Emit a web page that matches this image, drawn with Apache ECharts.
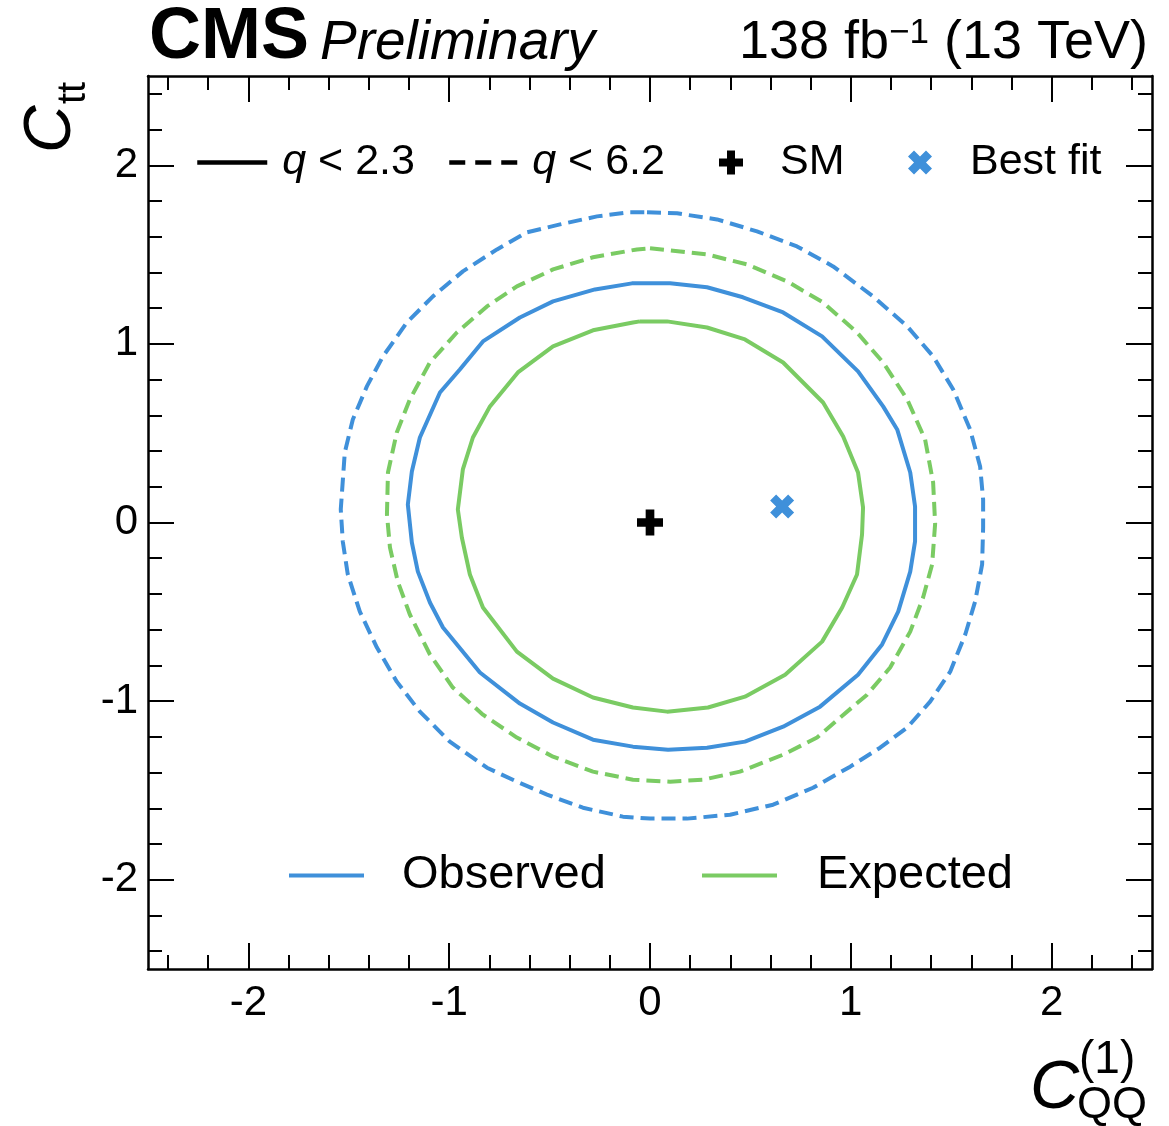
<!DOCTYPE html>
<html>
<head>
<meta charset="utf-8">
<script src="https://cdn.jsdelivr.net/npm/echarts@6/dist/echarts.min.js"></script>
<style>
html,body{margin:0;padding:0;background:#fff;}
#chart{width:1169px;height:1126px;}
</style>
</head>
<body>
<div id="chart"></div>
<script>
// ---- data ----
const xMajorTicks = [-2, -1, 0, 1, 2];
const xMinorTicks = [-2.4, -2.2, -1.8, -1.6, -1.4, -1.2, -0.8, -0.6, -0.4, -0.2, 0.2, 0.4, 0.6, 0.8, 1.2, 1.4, 1.6, 1.8, 2.2, 2.4];
const yMajorTicks = [-2, -1, 0, 1, 2];
const yMinorTicks = [-2.4, -2.2, -1.8, -1.6, -1.4, -1.2, -0.8, -0.6, -0.4, -0.2, 0.2, 0.4, 0.6, 0.8, 1.2, 1.4, 1.6, 1.8, 2.2, 2.4];

// Observed, q < 2.3 (solid)
const observed68 = [
  [0.00, 1.339], [0.10, 1.339], [0.284, 1.317], [0.463, 1.261], [0.663, 1.176], [0.857, 1.042],
  [1.036, 0.846], [1.161, 0.650], [1.231, 0.521], [1.296, 0.280], [1.320, 0.090], [1.320, -0.106],
  [1.296, -0.275], [1.236, -0.499], [1.156, -0.683], [1.036, -0.852], [0.847, -1.031], [0.663, -1.143],
  [0.473, -1.227], [0.284, -1.261], [0.090, -1.272], [-0.085, -1.255], [-0.284, -1.216], [-0.483, -1.120],
  [-0.648, -1.014], [-0.847, -0.840], [-1.031, -0.588], [-1.096, -0.448], [-1.156, -0.275], [-1.186, -0.112],
  [-1.206, 0.101], [-1.186, 0.286], [-1.146, 0.476], [-1.046, 0.728], [-0.947, 0.857], [-0.832, 1.014],
  [-0.648, 1.148], [-0.483, 1.238], [-0.274, 1.305], [-0.090, 1.339], [0.00, 1.339]
];
// Observed, q < 6.2 (dashed)
const observed95 = [
  [-0.015, 1.737], [0.135, 1.731], [0.334, 1.697], [0.533, 1.630], [0.732, 1.546], [0.912, 1.434],
  [1.111, 1.266], [1.281, 1.098], [1.410, 0.930], [1.510, 0.745], [1.594, 0.521], [1.644, 0.314],
  [1.659, 0.129], [1.659, -0.028], [1.654, -0.235], [1.619, -0.443], [1.570, -0.627], [1.495, -0.835],
  [1.395, -1.003], [1.281, -1.148], [1.146, -1.261], [0.997, -1.367], [0.812, -1.485], [0.613, -1.580],
  [0.399, -1.636], [0.184, -1.658], [0.000, -1.658], [-0.135, -1.647], [-0.334, -1.597], [-0.513, -1.524],
  [-0.663, -1.451], [-0.812, -1.373], [-0.997, -1.227], [-1.146, -1.059], [-1.261, -0.891], [-1.360, -0.700],
  [-1.445, -0.499], [-1.505, -0.291], [-1.530, -0.106], [-1.540, 0.073], [-1.520, 0.392], [-1.480, 0.577],
  [-1.410, 0.762], [-1.330, 0.930], [-1.211, 1.120], [-1.081, 1.266], [-0.932, 1.406], [-0.762, 1.529],
  [-0.613, 1.625], [-0.448, 1.669], [-0.264, 1.714], [-0.100, 1.737], [-0.015, 1.737]
];
// Expected, q < 2.3 (solid)
const expected68 = [
  [-0.050, 1.126], [0.085, 1.126], [0.284, 1.092], [0.473, 1.025], [0.663, 0.896], [0.862, 0.672],
  [0.962, 0.482], [1.036, 0.280], [1.061, 0.084], [1.056, -0.067], [1.031, -0.291], [0.957, -0.476],
  [0.857, -0.667], [0.673, -0.852], [0.473, -0.975], [0.289, -1.036], [0.085, -1.059], [-0.085, -1.036],
  [-0.284, -0.980], [-0.483, -0.874], [-0.663, -0.723], [-0.832, -0.476], [-0.897, -0.291], [-0.937, -0.084],
  [-0.957, 0.073], [-0.932, 0.297], [-0.882, 0.476], [-0.797, 0.650], [-0.658, 0.840], [-0.483, 0.986],
  [-0.284, 1.076], [-0.085, 1.120], [-0.050, 1.126]
];
// Expected, q < 6.2 (dashed)
const expected95 = [
  [0.000, 1.535], [0.284, 1.501], [0.483, 1.445], [0.683, 1.350], [0.862, 1.232], [1.031, 1.064],
  [1.161, 0.896], [1.281, 0.689], [1.370, 0.465], [1.410, 0.224], [1.420, -0.006], [1.405, -0.235],
  [1.360, -0.420], [1.296, -0.611], [1.196, -0.812], [1.081, -0.964], [0.947, -1.092], [0.832, -1.204],
  [0.663, -1.300], [0.448, -1.395], [0.264, -1.440], [0.100, -1.451], [-0.085, -1.440], [-0.284, -1.395],
  [-0.483, -1.311], [-0.663, -1.204], [-0.832, -1.076], [-0.982, -0.924], [-1.096, -0.739], [-1.196, -0.515],
  [-1.256, -0.331], [-1.295, -0.140], [-1.310, 0.045], [-1.305, 0.280], [-1.261, 0.504], [-1.196, 0.689],
  [-1.096, 0.896], [-0.962, 1.064], [-0.812, 1.210], [-0.663, 1.322], [-0.483, 1.417], [-0.284, 1.485],
  [-0.065, 1.529], [0.000, 1.535]
];
const smPoint = [[0, 0]];
const bestFitPoint = [[0.658, 0.090]];

// ---- style ----
const BLUE = '#3f90da';
const GREEN = '#7acb63';
const FONT = '"Liberation Sans", Arial, Helvetica, sans-serif';
const PLUS = 'path://M1,0L2,0L2,1L3,1L3,2L2,2L2,3L1,3L1,2L0,2L0,1L1,1Z';
const XMARK = 'path://M0,1.5L1.5,0L3,1.5L4.5,0L6,1.5L4.5,3L6,4.5L4.5,6L3,4.5L1.5,6L0,4.5L1.5,3Z';
const DASH = [14, 7];
const LW = 4;

const chart = echarts.init(document.getElementById('chart'), null, {renderer: 'canvas'});

function axisCommon(extra) {
  return Object.assign({
    type: 'value', min: -2.5, max: 2.5,
    splitLine: {show: false},
    axisLine: {show: true, onZero: false, lineStyle: {color: '#000', width: 2.5}},
  }, extra);
}
const hiddenLine = {show: false, onZero: false};
function majorTick(vals) { return {show: true, inside: true, length: 26, customValues: vals, lineStyle: {color: '#000', width: 2}}; }
function minorTick(vals) { return {show: true, inside: true, length: 14, customValues: vals, lineStyle: {color: '#000', width: 2}}; }

const fmt = v => String(v);
const lineLegendItem = {color: 'rgba(0,0,0,0)', borderColor: 'rgba(0,0,0,0)', borderWidth: 0};

const option = {
  animation: false,
  backgroundColor: '#fff',
  grid: {left: 148, right: 17, top: 76, bottom: 157, containLabel: false},
  xAxis: [
    axisCommon({position: 'bottom', axisTick: majorTick(xMajorTicks),
      axisLabel: {show: true, customValues: xMajorTicks, formatter: fmt, fontSize: 42, fontFamily: FONT, color: '#000', margin: 13}}),
    axisCommon({position: 'bottom', axisLine: hiddenLine, axisTick: minorTick(xMinorTicks), axisLabel: {show: false}}),
    axisCommon({position: 'top', axisTick: majorTick(xMajorTicks), axisLabel: {show: false}}),
    axisCommon({position: 'top', axisLine: hiddenLine, axisTick: minorTick(xMinorTicks), axisLabel: {show: false}})
  ],
  yAxis: [
    axisCommon({position: 'left', axisTick: majorTick(yMajorTicks),
      axisLabel: {show: true, customValues: yMajorTicks, formatter: fmt, fontSize: 42, fontFamily: FONT, color: '#000', margin: 10}}),
    axisCommon({position: 'left', axisLine: hiddenLine, axisTick: minorTick(yMinorTicks), axisLabel: {show: false}}),
    axisCommon({position: 'right', axisTick: majorTick(yMajorTicks), axisLabel: {show: false}}),
    axisCommon({position: 'right', axisLine: hiddenLine, axisTick: minorTick(yMinorTicks), axisLabel: {show: false}})
  ],
  legend: [
    {data: [{name: 'q<2.3'}], left: 195, top: 141, padding: 0, itemWidth: 70, itemHeight: 14, selectedMode: false,
      itemStyle: lineLegendItem, lineStyle: {width: 4.5, color: '#000'},
      formatter: () => '{i|q} < 2.3',
      textStyle: {fontSize: 43, fontFamily: FONT, color: '#000', padding: [0, 0, 0, 10], rich: {i: {fontStyle: 'italic', fontSize: 43, fontFamily: FONT, color: '#000'}}}},
    {data: [{name: 'q<6.2'}], left: 447, top: 141, padding: 0, itemWidth: 68, itemHeight: 14, selectedMode: false,
      itemStyle: lineLegendItem, lineStyle: {width: 4.5, color: '#000', type: [16, 10]},
      formatter: () => '{i|q} < 6.2',
      textStyle: {fontSize: 43, fontFamily: FONT, color: '#000', padding: [0, 0, 0, 10], rich: {i: {fontStyle: 'italic', fontSize: 43, fontFamily: FONT, color: '#000'}}}},
    {data: [{name: 'SM', icon: PLUS}], left: 719, top: 141, padding: 0, itemWidth: 24, itemHeight: 24, selectedMode: false,
      itemStyle: {opacity: 1},
      textStyle: {fontSize: 43, fontFamily: FONT, color: '#000', padding: [0, 0, 0, 32]}},
    {data: [{name: 'Best fit', icon: XMARK}], left: 908, top: 141, padding: 0, itemWidth: 24, itemHeight: 24, selectedMode: false,
      itemStyle: {opacity: 1},
      textStyle: {fontSize: 43, fontFamily: FONT, color: '#000', padding: [0, 0, 0, 33]}},
    {data: [{name: 'Observed'}], left: 287, top: 852, padding: 0, itemWidth: 75, itemHeight: 14, selectedMode: false,
      itemStyle: lineLegendItem, lineStyle: {width: 4, color: BLUE},
      textStyle: {fontSize: 47, fontFamily: FONT, color: '#000', padding: [0, 0, 0, 33]}},
    {data: [{name: 'Expected'}], left: 700, top: 852, padding: 0, itemWidth: 75, itemHeight: 14, selectedMode: false,
      itemStyle: lineLegendItem, lineStyle: {width: 4, color: GREEN},
      textStyle: {fontSize: 47, fontFamily: FONT, color: '#000', padding: [0, 0, 0, 35]}}
  ],
  series: [
    {name: 'obs95', type: 'line', data: observed95, symbol: 'none', lineStyle: {color: BLUE, width: LW, type: DASH}, z: 3},
    {name: 'exp95', type: 'line', data: expected95, symbol: 'none', lineStyle: {color: GREEN, width: LW, type: DASH}, z: 3},
    {name: 'obs68', type: 'line', data: observed68, symbol: 'none', lineStyle: {color: BLUE, width: LW}, z: 3},
    {name: 'exp68', type: 'line', data: expected68, symbol: 'none', lineStyle: {color: GREEN, width: LW}, z: 3},
    {name: 'SM', type: 'scatter', data: smPoint, symbol: PLUS, symbolSize: 26, itemStyle: {color: '#000', opacity: 1}, z: 5},
    {name: 'Best fit', type: 'scatter', data: bestFitPoint, symbol: XMARK, symbolSize: 24, itemStyle: {color: BLUE, opacity: 1}, z: 5},
    {name: 'q<2.3', type: 'line', data: [], symbol: 'none', itemStyle: {color: '#000'}, lineStyle: {color: '#000', width: LW}},
    {name: 'q<6.2', type: 'line', data: [], symbol: 'none', itemStyle: {color: '#000'}, lineStyle: {color: '#000', width: LW, type: DASH}},
    {name: 'Observed', type: 'line', data: [], symbol: 'none', itemStyle: {color: BLUE}, lineStyle: {color: BLUE, width: LW}},
    {name: 'Expected', type: 'line', data: [], symbol: 'none', itemStyle: {color: GREEN}, lineStyle: {color: GREEN, width: LW}}
  ],
  graphic: [
    {type: 'text', x: 149, y: 38, style: {text: 'CMS', font: 'bold 72px ' + FONT, fill: '#000', align: 'left', verticalAlign: 'middle'}},
    {type: 'text', x: 320, y: 44, style: {text: 'Preliminary', font: 'italic 55px ' + FONT, fill: '#000', align: 'left', verticalAlign: 'middle'}},
    {type: 'text', x: 1148, y: 43, style: {text: '138 fb{sup|\u22121} (13 TeV)', font: '54px ' + FONT, fill: '#000', align: 'right', verticalAlign: 'middle',
      rich: {sup: {fontSize: 35, fontFamily: FONT, fill: '#000', verticalAlign: 'top', lineHeight: 34}}}},
    // x-axis title C^(1)_QQ
    {type: 'text', x: 1030, y: 1089, style: {text: 'C', font: 'italic 68px ' + FONT, fill: '#000', align: 'left', verticalAlign: 'middle'}},
    {type: 'text', x: 1079, y: 1060, style: {text: '(1)', font: '46px ' + FONT, fill: '#000', align: 'left', verticalAlign: 'middle'}},
    {type: 'text', x: 1077, y: 1106, style: {text: 'QQ', font: '45px ' + FONT, fill: '#000', align: 'left', verticalAlign: 'middle'}},
    // y-axis title C_tt (rotated)
    {type: 'text', x: 52, y: 153, rotation: Math.PI / 2, style: {text: 'C', font: 'italic 66px ' + FONT, fill: '#000', align: 'left', verticalAlign: 'middle'}},
    {type: 'text', x: 74, y: 104, rotation: Math.PI / 2, style: {text: 'tt', font: '40px ' + FONT, fill: '#000', align: 'left', verticalAlign: 'middle'}}
  ]
};
chart.setOption(option);
</script>
</body>
</html>
